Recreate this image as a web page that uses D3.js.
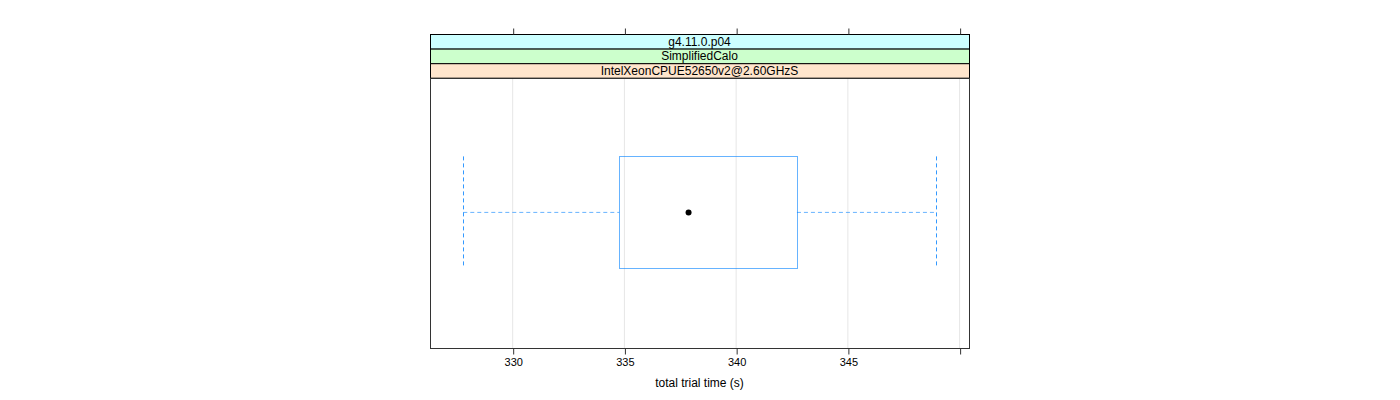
<!DOCTYPE html>
<html><head><meta charset="utf-8">
<script src="https://cdn.jsdelivr.net/npm/d3@7"></script>
<style>body{margin:0;background:#fff}svg{display:block}</style>
</head><body>
<script>
const stripLabels = ["g4.11.0.p04", "SimplifiedCalo", "IntelXeonCPUE52650v2@2.60GHzS"];
const stripColors = ["#ccffff", "#ccffcc", "#ffe5cc"];
const boxStats = [{lo: 327.79, q1: 334.77, median: 337.87, q3: 342.72, hi: 348.95}];
const xLimits = [326.30, 350.42];
const xTicks = [330, 335, 340, 345, 350];
const xTickLabels = ["330", "335", "340", "345", ""];
const xTitle = "total trial time (s)";

const W = 1400, H = 400;
const left = 430, right = 969, stripTop = 34, stripH = 14.6, panelBottom = 348;
const panelTop = stripTop + stripH * stripLabels.length;

const svg = d3.select("body").append("svg").attr("width", W).attr("height", H)
  .style("font-family", "'Liberation Sans', Arial, sans-serif");

const x = d3.scaleLinear().domain(xLimits).range([left, right]);
const y = d3.scaleBand().domain([0]).range([panelTop, panelBottom]).padding(0);

// grid
svg.append("g").selectAll("line").data(xTicks).join("line")
  .attr("x1", d => x(d)).attr("x2", d => x(d))
  .attr("y1", panelTop).attr("y2", panelBottom)
  .attr("stroke", "#e6e6e6").attr("stroke-width", 1);

// strips
const strips = svg.append("g");
stripLabels.forEach((lab, i) => {
  const yy = stripTop + i * stripH;
  strips.append("rect").attr("x", left + 0.5).attr("y", yy + 0.5)
    .attr("width", right - left).attr("height", stripH)
    .attr("fill", stripColors[i]).attr("stroke", "#000").attr("stroke-width", 1);
  strips.append("text").attr("x", (left + right) / 2).attr("y", yy + stripH / 2 + 4.3)
    .attr("text-anchor", "middle").attr("font-size", 12).attr("fill", "#000").text(lab);
});

// box plot
const bh = 112;
const g = svg.append("g");
boxStats.forEach((s, i) => {
  const cy = y(i) + y.bandwidth() / 2 - 0.5;
  const top = cy - bh / 2, bot = cy + bh / 2;
  const dash = "4,3";
  g.append("line").attr("x1", x(s.lo)).attr("x2", x(s.q1)).attr("y1", cy).attr("y2", cy)
    .attr("stroke", "#0080ff").attr("stroke-opacity", 0.6).attr("stroke-dasharray", dash);
  g.append("line").attr("x1", x(s.q3)).attr("x2", x(s.hi)).attr("y1", cy).attr("y2", cy)
    .attr("stroke", "#0080ff").attr("stroke-opacity", 0.6).attr("stroke-dasharray", dash);
  [s.lo, s.hi].forEach(v => {
    g.append("line").attr("x1", Math.round(x(v)) + 0.5).attr("x2", Math.round(x(v)) + 0.5)
      .attr("y1", top).attr("y2", bot)
      .attr("stroke", "#0080ff").attr("stroke-opacity", 0.8).attr("stroke-dasharray", dash);
  });
  g.append("rect").attr("x", Math.round(x(s.q1)) + 0.5).attr("y", Math.round(top) + 0.5)
    .attr("width", Math.round(x(s.q3)) - Math.round(x(s.q1))).attr("height", Math.round(bh))
    .attr("fill", "none").attr("stroke", "#0080ff").attr("stroke-opacity", 0.6);
  g.append("circle").attr("cx", x(s.median)).attr("cy", cy).attr("r", 3).attr("fill", "#000");
});

// panel border
svg.append("rect").attr("x", left + 0.5).attr("y", panelTop + 0.5)
  .attr("width", right - left).attr("height", panelBottom - panelTop)
  .attr("fill", "none").attr("stroke", "#333").attr("stroke-width", 1);

// axes
const axB = d3.axisBottom(x).tickValues(xTicks).tickFormat((d, i) => xTickLabels[i]).tickSize(6).tickPadding(4);
const gb = svg.append("g").attr("transform", `translate(0.5,${panelBottom + 0.5})`).call(axB);
gb.select(".domain").remove();
gb.selectAll("line").attr("stroke", "#333");
gb.selectAll("text").attr("font-size", 11).attr("fill", "#000").attr("font-family", "'Liberation Sans', Arial, sans-serif");

const axT = d3.axisTop(x).tickValues(xTicks).tickFormat("").tickSize(6);
const gt = svg.append("g").attr("transform", `translate(0.5,${stripTop + 0.5})`).call(axT);
gt.select(".domain").remove();
gt.selectAll("line").attr("stroke", "#333");

svg.append("text").attr("x", (left + right) / 2).attr("y", 387).attr("text-anchor", "middle")
  .attr("font-size", 12).attr("fill", "#000").text(xTitle);
</script>
</body></html>
